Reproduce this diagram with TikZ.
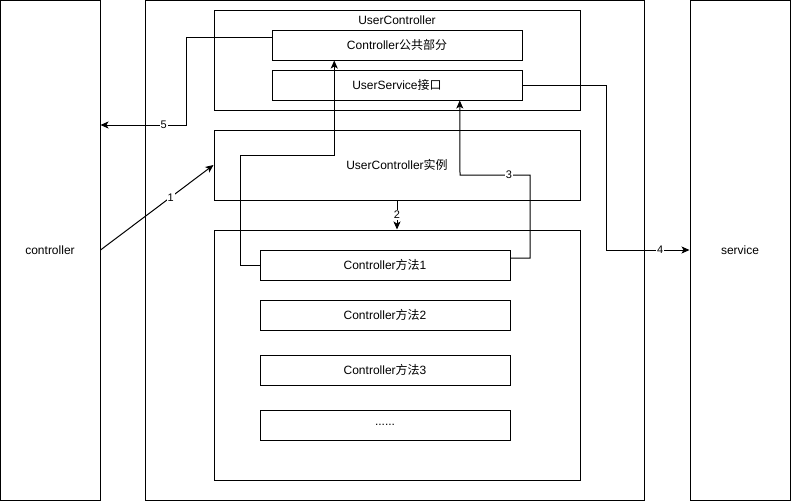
\documentclass[tikz,border=0pt]{standalone}
\usepackage{fontspec}
\setmainfont{Liberation Sans}
\newfontfamily\cjk{Noto Sans CJK SC}
\newcommand{\zhtxt}[1]{{\cjk #1}}
\usetikzlibrary{calc,arrows.meta}

\begin{document}
\begin{tikzpicture}[x=1pt, y=-1pt,
  box/.style={draw, line width=1pt, inner sep=0pt, font=\fontsize{12}{14}\selectfont},
  arr/.style={-{Stealth[length=8pt,width=7pt,inset=2pt]}, line width=1pt},
  num/.style={fill=white, inner sep=1pt, font=\fontsize{11}{12}\selectfont}]

\useasboundingbox (0,0) rectangle (791,501);

% ===== 左右と中央の枠 =====
\node[box, minimum width=100pt, minimum height=500pt] (ctrl) at (50,250) {controller};
\node[box, minimum width=499pt, minimum height=500pt] (outer) at (394.5,250) {};
\node[box, minimum width=100pt, minimum height=500pt] (svc) at (740,250) {service};

% ===== UserController =====
\node[box, minimum width=366pt, minimum height=100pt] (uc) at (397,60) {};
\node[font=\fontsize{12}{14}\selectfont, inner sep=0pt] (uclabel) at (397,20) {UserController};
\node[box, minimum width=250pt, minimum height=30pt] (common) at (397,45) {Controller\zhtxt{公共部分}};
\node[box, minimum width=250pt, minimum height=30pt] (usvc) at (397,85) {UserService\zhtxt{接口}};

% 実例
\node[box, minimum width=366pt, minimum height=70pt] (inst) at (397,165) {UserController\zhtxt{实例}};

% ===== メソッド =====
\node[box, minimum width=366pt, minimum height=250pt] (methods) at (397,355) {};
\node[box, minimum width=250pt, minimum height=30pt] (m1) at (385,265) {Controller\zhtxt{方法}1};
\node[box, minimum width=250pt, minimum height=30pt] (m2) at (385,315) {Controller\zhtxt{方法}2};
\node[box, minimum width=250pt, minimum height=30pt] (m3) at (385,370) {Controller\zhtxt{方法}3};
\node[box, minimum width=250pt, minimum height=30pt] (m4) at (385,425) {......};

% ===== 矢印 =====
% 1
\draw[arr] (ctrl.east) -- (inst.west) node[num, pos=0.62] {1};
% 2
\draw[arr] (inst.south) -- (methods.north) node[num, midway] {2};
% 方法1 -> 公共部分
\draw[arr] (m1.west) -| (240,155) -| ($(common.south west)!0.25!(common.south east)$);
% 3
\draw[arr] ([yshift=7pt]m1.east) -| (530,175) -- (460,175) node[num, pos=0.3] {3}
  -- ($(usvc.south west)!0.75!(usvc.south east)$);
% 4
\draw[arr] (usvc.east) -| (606,250) -- (svc.west) node[num, pos=0.65] {4};
% 5
\draw[arr] ([yshift=7.5pt]common.west) -| (186,125) -- (ctrl.east |- 186,125) node[num, pos=0.26] {5};

\end{tikzpicture}
\end{document}
